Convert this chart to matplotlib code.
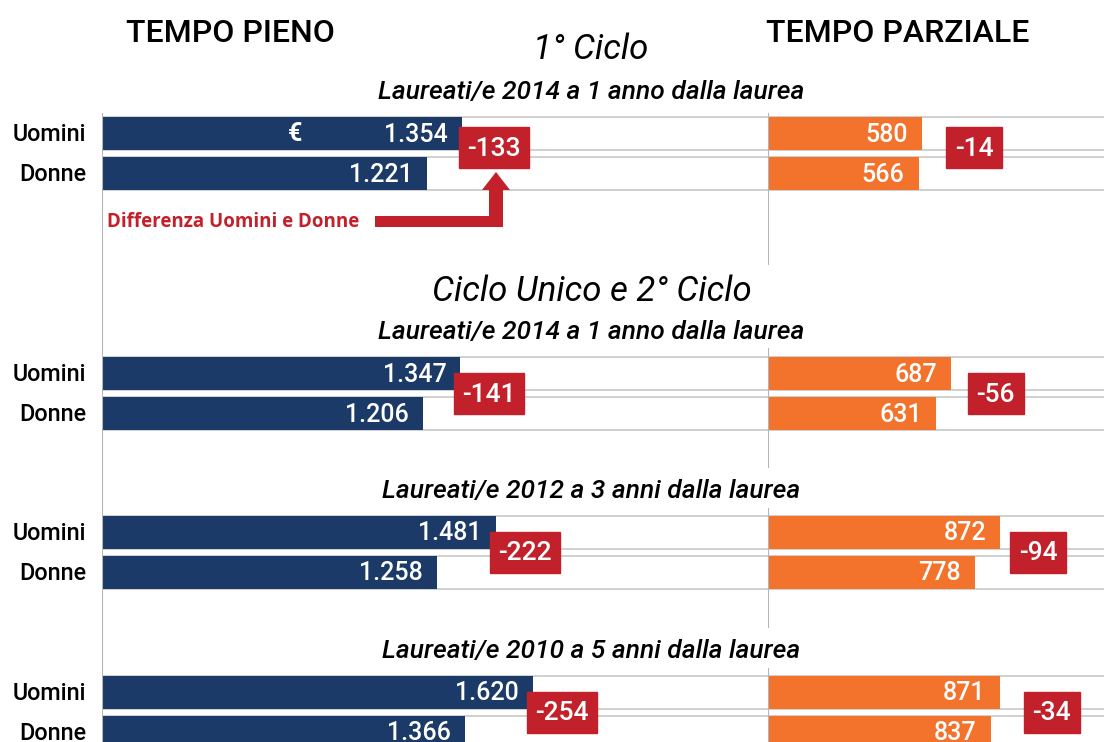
import matplotlib
matplotlib.use("Agg")
import matplotlib.pyplot as plt
from matplotlib.patches import Rectangle

plt.rcParams['font.family'] = ['Roboto', 'DejaVu Sans']

# data
sections = ['1° Ciclo', 'Ciclo Unico e 2° Ciclo']
subtitles = ['Laureati/e 2014 a 1 anno dalla laurea',
             'Laureati/e 2014 a 1 anno dalla laurea',
             'Laureati/e 2012 a 3 anni dalla laurea',
             'Laureati/e 2010 a 5 anni dalla laurea']
sexes = ['Uomini', 'Donne']
full_uomini = [1354, 1347, 1481, 1620]
full_donne = [1221, 1206, 1258, 1366]
full_diff = [-133, -141, -222, -254]
part_uomini = [580, 687, 872, 871]
part_donne = [566, 631, 778, 837]
part_diff = [-14, -56, -94, -34]

# colours
NAVY = '#1b3a67'
ORANGE = '#f3722c'
RED = '#c2202a'
GRID = '#c8c8c8'

# layout (pixels)
W, H = 1104, 742
PX = 0.266                      # pixels per euro
row_top = [117, 357, 516, 676]  # top of the "Uomini" bar in each group
bar_h = 33
gap = 7
box_dy = [-6, 0, 0, 0]
full_box_dx = [-3, -6, -6, -6]
part_box_dx = [24, 17, 10, 24]
right_axis = [(113, 265), (348, 468), (508, 628), (668, 742)]

fig = plt.figure(figsize=(W / 100, H / 100), dpi=100)


def panel(x0, x1):
    ax = fig.add_axes([x0 / W, 0, (x1 - x0) / W, 1])
    ax.set_xlim(0, (x1 - x0) / PX)
    ax.set_ylim(H, 0)
    ax.axis('off')
    return ax


def fmt(v):
    return f'{v:,}'.replace(',', '.')


def draw_panel(ax, uomini, donne, diffs, color, box_dx, box_w, axis_spans):
    xmax = ax.get_xlim()[1]
    for g in range(len(uomini)):
        tops = [row_top[g], row_top[g] + bar_h + gap]
        for top, val in zip(tops, [uomini[g], donne[g]]):
            ax.hlines([top, top + bar_h], 0, xmax, color=GRID, lw=1.2, zorder=1)
            ax.barh(top + bar_h / 2, val, height=bar_h, color=color, zorder=2)
            ax.text(val - 14 / PX, top + bar_h / 2 + 1, fmt(val), ha='right', va='center',
                    color='white', fontsize=18, fontweight='medium', zorder=3)
        # difference box
        yc = row_top[g] + bar_h + gap / 2 + box_dy[g]
        bx = uomini[g] + box_dx[g] / PX
        ax.add_patch(Rectangle((bx, yc - 20.5), box_w / PX, 41, color=RED, zorder=4))
        ax.text(bx + box_w / PX / 2, yc + 1, str(diffs[g]), ha='center', va='center',
                color='white', fontsize=19, fontweight='medium', zorder=5)
    for y0, y1 in axis_spans:
        ax.vlines(0, y0, y1, color='#b4b4b4', lw=1.5, zorder=3)


ax_full = panel(102, 768)
draw_panel(ax_full, full_uomini, full_donne, full_diff, NAVY, full_box_dx, 70, [(113, 742)])

ax_part = panel(768, W)
draw_panel(ax_part, part_uomini, part_donne, part_diff, ORANGE, part_box_dx, 56, right_axis)

# overlay for titles and notes
ov = fig.add_axes([0, 0, 1, 1])
ov.set_xlim(0, W)
ov.set_ylim(H, 0)
ov.axis('off')

ov.text(230, 33, 'TEMPO PIENO', ha='center', va='center', fontsize=23, fontweight='medium')
ov.text(898, 33, 'TEMPO PARZIALE', ha='center', va='center', fontsize=23, fontweight='medium')
ov.text(591, 49, sections[0], ha='center', va='center', fontsize=25, style='italic')
ov.text(592, 291, sections[1], ha='center', va='center', fontsize=25, style='italic')

for g, sub in enumerate(subtitles):
    ov.text(591, row_top[g] - 25, sub, ha='center', va='center', fontsize=19,
            style='italic', fontweight='medium')
    for i, s in enumerate(sexes):
        yc = row_top[g] + i * (bar_h + gap) + bar_h / 2
        ov.text(86, yc + 1, s, ha='right', va='center', fontsize=16.8, fontweight='medium')

ov.text(295, 134, '€', ha='center', va='center', color='white', fontsize=18, fontweight='bold')

ov.text(107, 222, 'Differenza Uomini e Donne', ha='left', va='center', color=RED,
        fontsize=13.5, fontweight='bold', family=['Open Sans', 'DejaVu Sans'])
ov.fill([375, 489, 489, 482, 496, 510, 503, 503, 375],
        [216, 216, 190, 190, 172, 190, 190, 227, 227], color=RED, lw=0)

fig.savefig('out.png', dpi=100)
